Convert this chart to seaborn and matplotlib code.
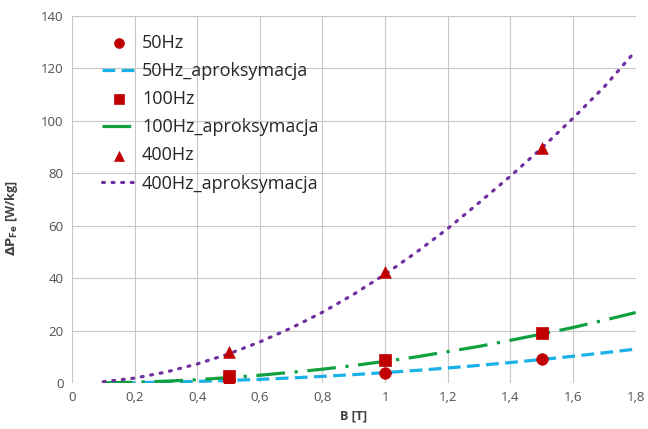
import numpy as np
import pandas as pd
import matplotlib.pyplot as plt
import seaborn as sns

# measured points
b_meas = [0.5, 1.0, 1.5]
p_50 = [1.2, 3.9, 9.2]
p_100 = [2.8, 8.7, 19.2]
p_400 = [11.7, 42.4, 89.8]

# approximation curves
b_fit = [0.1, 0.2, 0.3, 0.4, 0.5, 0.6, 0.7, 0.8, 0.9, 1.0, 1.1, 1.2, 1.3, 1.4, 1.5, 1.6, 1.7, 1.8]
fit_50 = [0.04, 0.16, 0.36, 0.64, 1.0, 1.44, 1.96, 2.56, 3.24, 4.0, 4.84, 5.76, 6.76, 7.84, 9.0, 10.24, 11.56, 12.96]
fit_100 = [0.08, 0.33, 0.75, 1.3, 2.1, 3.0, 4.1, 5.3, 6.7, 8.3, 10.0, 12.0, 14.0, 16.3, 18.7, 21.2, 24.0, 26.9]
fit_400 = [0.52, 1.9, 4.2, 7.3, 11.1, 15.7, 21.0, 27.0, 33.9, 41.5, 49.9, 58.9, 68.8, 78.9, 89.6, 101.0, 113.0, 126.7]

sns.set_style("whitegrid", {"grid.color": "#c8c8c8", "axes.edgecolor": "#c8c8c8"})
plt.rcParams['font.family'] = ['Open Sans', 'DejaVu Sans']

fig, ax = plt.subplots(figsize=(6.48, 4.29), dpi=100)
fig.subplots_adjust(left=0.111, right=0.981, top=0.963, bottom=0.107)

red = "#c00000"
meas = [("50Hz", p_50, "o"), ("100Hz", p_100, "s"), ("400Hz", p_400, "^")]
fits = [("50Hz_aproksymacja", fit_50, "#1ab0e8", (4, 2)),
        ("100Hz_aproksymacja", fit_100, "#10a040", (9, 3, 1, 3)),
        ("400Hz_aproksymacja", fit_400, "#7030a0", (0.6, 2.4))]

for (lab_m, vals_m, mk), (lab_f, vals_f, col, dash) in zip(meas, fits):
    df_f = pd.DataFrame({"B": b_fit, "P": vals_f})
    sns.lineplot(data=df_f, x="B", y="P", ax=ax, color=col, linewidth=2.3,
                 label=lab_f, zorder=2)
    line = ax.lines[-1]
    line.set_dashes(dash)
    if lab_f.startswith("400"):
        line.set_dash_capstyle("round")
    df_m = pd.DataFrame({"B": b_meas, "P": vals_m})
    sns.scatterplot(data=df_m, x="B", y="P", ax=ax, color=red, marker=mk, s=70,
                    edgecolor=red, linewidth=0.5, label=lab_m, zorder=3)

h, l = ax.get_legend_handles_labels()
order = ["50Hz", "50Hz_aproksymacja", "100Hz", "100Hz_aproksymacja", "400Hz", "400Hz_aproksymacja"]
hd = dict(zip(l, h))
ax.legend([hd[k] for k in order], order, loc="upper left", bbox_to_anchor=(0.025, 0.995),
          frameon=False, fontsize=13, handlelength=1.9, labelspacing=0.56,
          handletextpad=0.3, markerscale=0.85)

ax.set_xlim(0, 1.8)
ax.set_ylim(0, 140)
ax.set_xticks(np.arange(0, 1.81, 0.2))
ax.set_yticks(range(0, 141, 20))
ax.set_xticklabels(["0", "0,2", "0,4", "0,6", "0,8", "1", "1,2", "1,4", "1,6", "1,8"])
ax.tick_params(labelsize=9.5, colors="#505050", length=0, pad=6)
ax.set_xlabel("B [T]", fontsize=9, fontweight="bold", color="#404040")
ax.set_ylabel(r"$\mathbf{\Delta P_{Fe}}$ [W/kg]", fontsize=9, fontweight="bold", color="#404040")
ax.yaxis.set_label_coords(-0.092, 0.45)
for s in ax.spines.values():
    s.set_visible(False)

plt.savefig("out.png")
plt.close()
